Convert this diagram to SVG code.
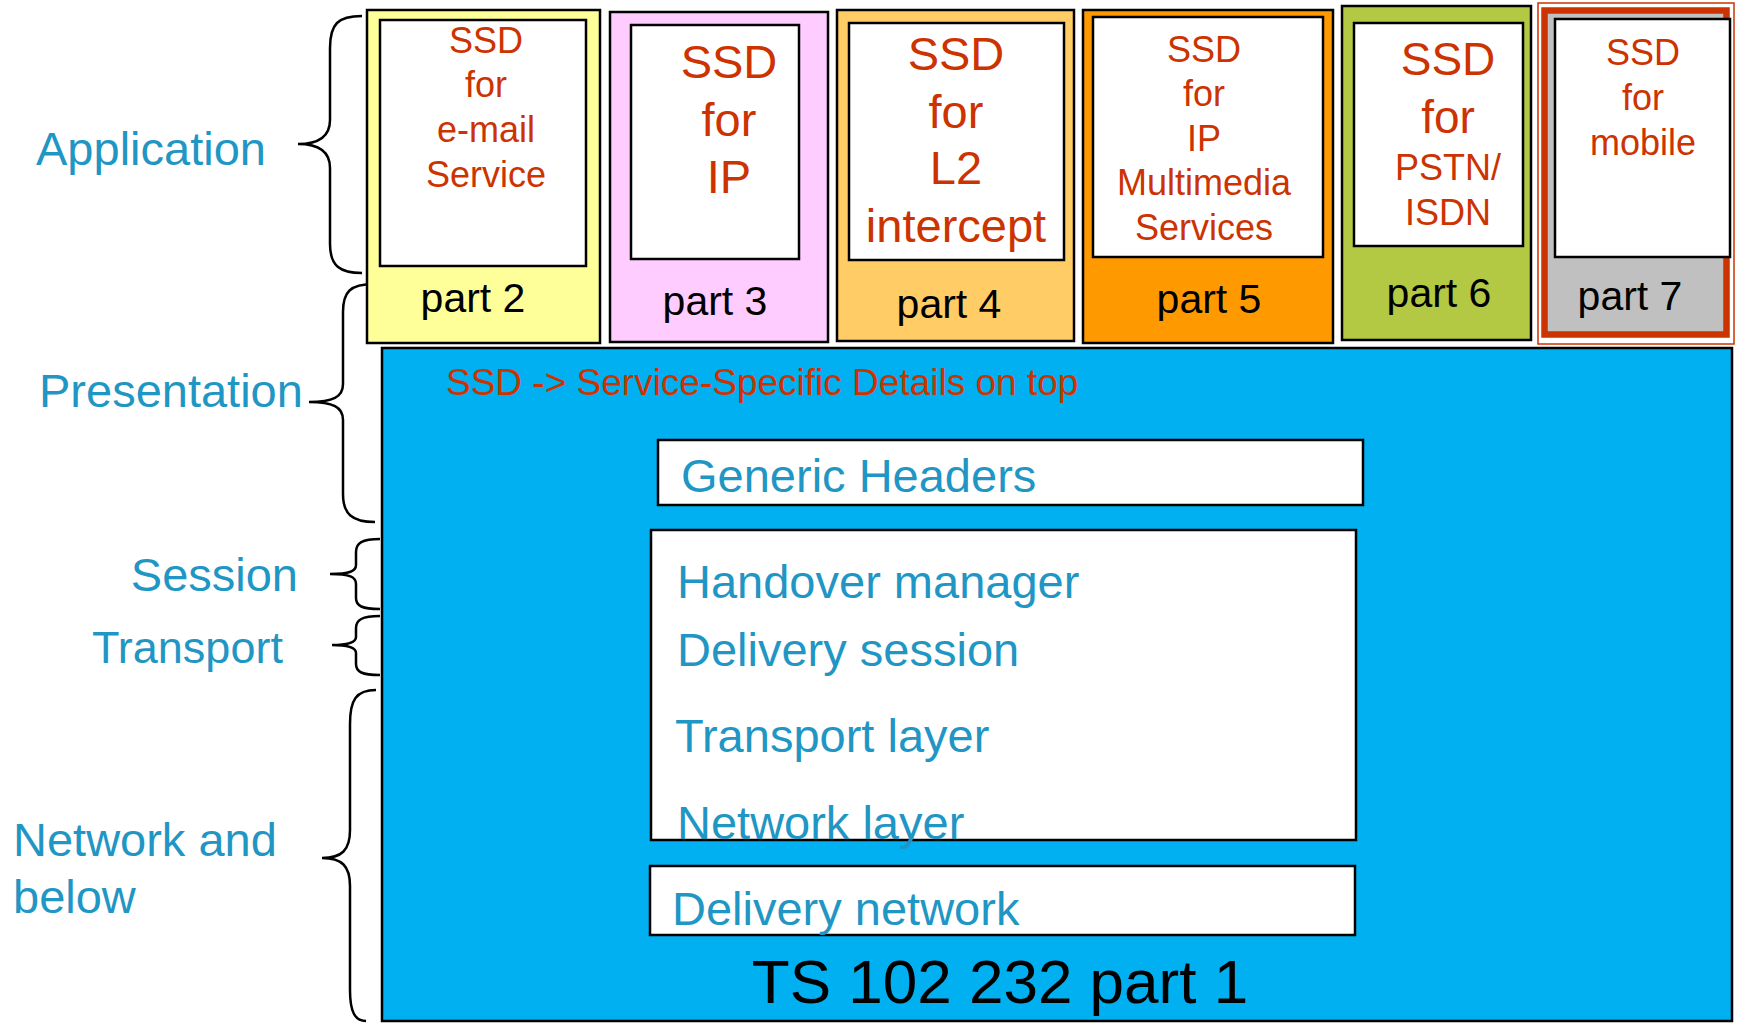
<svg xmlns="http://www.w3.org/2000/svg" width="1737" height="1023" viewBox="0 0 1737 1023">
<style>
.box{stroke:#000;stroke-width:2.5}
.inner{fill:#fff;stroke:#000;stroke-width:2.5}
.ssd{font-family:"Liberation Sans",Arial,sans-serif;fill:#CC3300;text-anchor:middle}
.part{font-family:"Liberation Sans",Arial,sans-serif;fill:#000;font-size:41px;text-anchor:middle}
.lbl{font-family:"Liberation Sans",Arial,sans-serif;fill:#1F96C4;font-size:47px}
.brace{fill:none;stroke:#000;stroke-width:2.5}
</style>
<rect width="1737" height="1023" fill="#fff"/>

<g id="labels">
<text class="lbl" x="36" y="165">Application</text>
<text class="lbl" x="39" y="407">Presentation</text>
<text class="lbl" x="298" y="591" text-anchor="end">Session</text>
<text class="lbl" x="92" y="663" style="font-size:45px">Transport</text>
<text class="lbl" x="13" y="856">Network and</text>
<text class="lbl" x="13" y="913">below</text>
</g>

<g id="braces">
<path class="brace" d="M362,16 C338,16 330,24 330,48 L330,120 C330,136 320,144 298,144 C320,144 330,152 330,168 L330,244 C330,266 340,273 362,273"/>
<path class="brace" d="M374,284 C350,284 343,292 343,312 L343,384 C343,397 333,402 309,402 C333,402 343,407 343,420 L343,494 C343,514 352,522 375,522"/>
<path class="brace" d="M380,539 C362,539 356,543 356,552 L356,565 C356,571 350,574 330,574 C350,574 356,577 356,584 L356,598 C356,606 362,609 380,609"/>
<path class="brace" d="M380,616 C362,616 356,620 356,628 L356,637 C356,642 350,645 332,645 C350,645 356,648 356,653 L356,664 C356,672 362,675 380,675"/>
<path class="brace" d="M376,690 C356,690 350,700 350,724 L350,830 C350,850 342,858 322,858 C342,858 350,866 350,886 L350,990 C350,1012 355,1021 366,1021"/>
</g>

<g id="part1">
<rect class="box" x="382" y="348" width="1350" height="673" fill="#00B0F0"/>
<text x="446" y="395" style="font-family:'Liberation Sans',Arial,sans-serif;font-size:37px;fill:#CC3300">SSD -&gt; Service-Specific Details on top</text>
<g id="generic-headers">
<rect class="inner" x="658" y="440" width="705" height="65"/>
<text class="lbl" x="681" y="492">Generic Headers</text>
</g>
<g id="handover-stack">
<rect class="inner" x="651" y="530" width="705" height="310"/>
<text class="lbl" x="677" y="598">Handover manager</text>
<text class="lbl" x="677" y="666">Delivery session</text>
<text class="lbl" x="675" y="752">Transport layer</text>
<text class="lbl" x="677" y="839">Network layer</text>
</g>
<g id="delivery-network">
<rect class="inner" x="650" y="866" width="705" height="69"/>
<text class="lbl" x="672" y="925">Delivery network</text>
</g>
<text x="1000" y="1003" text-anchor="middle" style="font-family:'Liberation Sans',Arial,sans-serif;font-size:62px;fill:#000">TS 102 232 part 1</text>
</g>

<g id="part2">
<rect class="box" x="367" y="10" width="233" height="333" fill="#FFFF99"/>
<rect class="inner" x="380" y="20" width="206" height="246"/>
<g class="ssd" style="font-size:36px">
<text x="486" y="53">SSD</text>
<text x="486" y="97">for</text>
<text x="486" y="142">e-mail</text>
<text x="486" y="187">Service</text>
</g>
<text class="part" x="473" y="312">part 2</text>
</g>

<g id="part3">
<rect class="box" x="610" y="12" width="218" height="330" fill="#FFCCFF"/>
<rect class="inner" x="631" y="25" width="168" height="234"/>
<g class="ssd" style="font-size:47px">
<text x="729" y="78">SSD</text>
<text x="729" y="136">for</text>
<text x="729" y="193">IP</text>
</g>
<text class="part" x="715" y="315">part 3</text>
</g>

<g id="part4">
<rect class="box" x="837" y="10" width="237" height="331" fill="#FFCC66"/>
<rect class="inner" x="849" y="23" width="215" height="237"/>
<g class="ssd" style="font-size:47px">
<text x="956" y="70">SSD</text>
<text x="956" y="128">for</text>
<text x="956" y="184">L2</text>
<text x="956" y="242">intercept</text>
</g>
<text class="part" x="949" y="318">part 4</text>
</g>

<g id="part5">
<rect class="box" x="1083" y="10" width="250" height="333" fill="#FF9900"/>
<rect class="inner" x="1093" y="17" width="230" height="240"/>
<g class="ssd" style="font-size:36px">
<text x="1204" y="62">SSD</text>
<text x="1204" y="106">for</text>
<text x="1204" y="151">IP</text>
<text x="1204" y="195">Multimedia</text>
<text x="1204" y="240">Services</text>
</g>
<text class="part" x="1209" y="313">part 5</text>
</g>

<g id="part6">
<rect class="box" x="1342" y="6" width="189" height="334" fill="#B3C843"/>
<rect class="inner" x="1354" y="23" width="169" height="223"/>
<g class="ssd">
<text x="1448" y="75" style="font-size:46px">SSD</text>
<text x="1448" y="133" style="font-size:46px">for</text>
<text x="1448" y="180" style="font-size:36px">PSTN/</text>
<text x="1448" y="225" style="font-size:36px">ISDN</text>
</g>
<text class="part" x="1439" y="307">part 6</text>
</g>

<g id="part7">
<rect x="1538" y="3" width="196" height="341" fill="#fff" stroke="#CC3300" stroke-width="1.5"/>
<rect x="1544.5" y="10.5" width="182" height="324" fill="#C0C0C0" stroke="#CC3300" stroke-width="6.5"/>
<rect class="inner" x="1555" y="19" width="175" height="238"/>
<g class="ssd" style="font-size:36px">
<text x="1643" y="65">SSD</text>
<text x="1643" y="110">for</text>
<text x="1643" y="155">mobile</text>
</g>
<text class="part" x="1630" y="310">part 7</text>
</g>
</svg>
